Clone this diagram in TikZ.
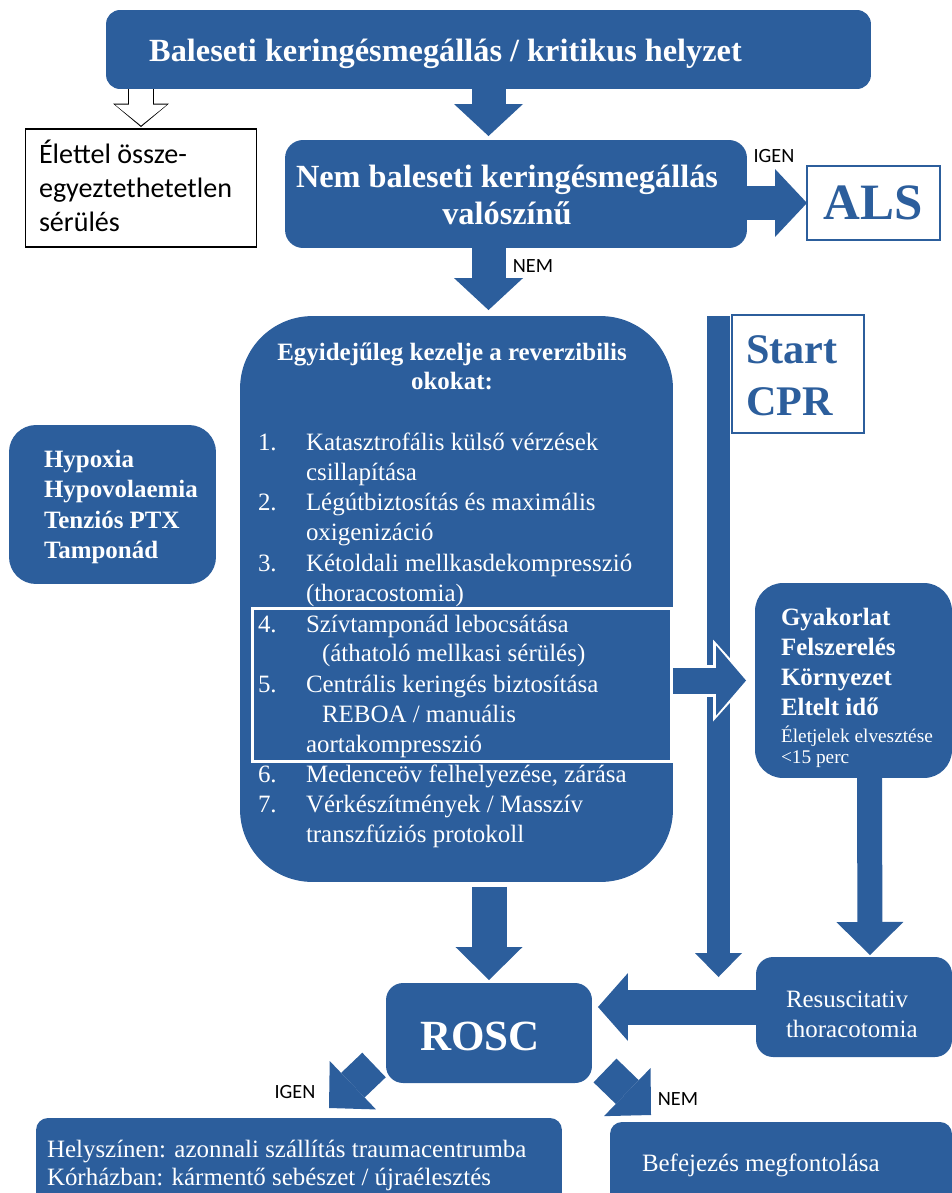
\documentclass[tikz,border=0pt]{standalone}
\usepackage{fontspec}
\setmainfont{Liberation Serif}
\newfontfamily\calibri{Carlito}
\usetikzlibrary{arrows.meta}
\definecolor{ablue}{RGB}{44,94,156}
\begin{document}
\begin{tikzpicture}[x={(0.02cm,0cm)},y={(0cm,-0.02cm)},every node/.style={inner sep=0pt, outer sep=0pt},
panel/.style={fill=ablue},
blk/.style n args={3}{draw=ablue,line width=#1,-{Triangle[width=#2,length=#3,line width=0pt]}},
bf/.style={font=\bfseries\fontsize{14.2pt}{17pt}\selectfont,text=white},
rm/.style={font=\fontsize{14.2pt}{17pt}\selectfont,text=white},
lb/.style={font=\calibri\fontsize{11.5pt}{13pt}\selectfont}]
\useasboundingbox (0,0) rectangle (952,1193);
\node[panel,rounded corners=0.28cm,minimum width=15.3cm,minimum height=1.58cm] (top) at (488.5,49.5) {};
\node[draw,line width=0.6pt,fill=white,minimum width=4.63cm,minimum height=2.36cm] (lethal) at (141,188) {};
\node[panel,rounded corners=0.36cm,minimum width=9.24cm,minimum height=2.16cm] (nb) at (516,194) {};
\node[draw=ablue,line width=0.7pt,fill=white,minimum width=2.66cm,minimum height=1.48cm,text=ablue,font=\bfseries\fontsize{29pt}{34pt}\selectfont] (als) at (873.5,203) {ALS};
\node[panel,rounded corners=1.45cm,minimum width=8.66cm,minimum height=11.32cm] (causes) at (456.5,599) {};
\node[panel,rounded corners=0.54cm,minimum width=4.14cm,minimum height=3.18cm] (hyp) at (112.5,504.5) {};
\node[draw=ablue,line width=0.7pt,fill=white,minimum width=2.64cm,minimum height=2.36cm] (cpr) at (798,374) {};
\node[panel,rounded corners=0.56cm,minimum width=3.94cm,minimum height=3.9cm] (gyak) at (853.5,680.5) {};
\node[panel,rounded corners=0.34cm,minimum width=4.12cm,minimum height=2cm] (rosc) at (489,1033) {};
\node[panel,rounded corners=0.34cm,minimum width=3.92cm,minimum height=2cm] (rt) at (854,1007) {};
\node[panel,rounded corners=0.24cm,minimum width=10.52cm,minimum height=1.74cm] (yes) at (299,1161.5) {};
\node[panel,rounded corners=0.24cm,minimum width=6.84cm,minimum height=1.66cm] (stop) at (781,1163.5) {};
\draw[white,line width=1.7pt] (252.5,608.5) rectangle (671.5,761.5);
\coordinate (spinetop) at (718.5,316);
\coordinate (spineend) at (718.5,977);
\coordinate (yestip) at (329,1108);
\coordinate (notip) at (651,1115);
\draw[draw=black,line width=0.52cm,-{Triangle[width=1.12cm,length=0.47cm,line width=0pt]},shorten >=0.04cm] (top.south -| lethal.north) -- (lethal.north);
\draw[draw=white,line width=0.48cm,-{Triangle[width=1.04cm,length=0.42cm,line width=0pt]},shorten >=0.07cm] (top.south -| lethal.north) -- (lethal.north);
\draw[blk={0.68cm}{1.38cm}{0.64cm},shorten >=0.08cm] (top.south) -- (top.south |- nb.north);
\draw[blk={0.68cm}{1.36cm}{0.64cm}] (nb.east |- als) -- (als.west);
\draw[blk={0.68cm}{1.38cm}{0.64cm},shorten >=0.12cm] (nb.south -| top.south) -- (causes.north -| top.south);
\draw[blk={0.7cm}{1.34cm}{0.66cm},shorten <=0.1cm,shorten >=0.06cm] (causes.south -| rosc.north) -- (rosc.north);
\draw[blk={0.46cm}{0.94cm}{0.48cm}] (spinetop) -- (spineend);
\draw[draw=white,line width=0.64cm,-{Triangle[width=1.64cm,length=0.74cm,line width=0pt]},shorten >=0.1cm] (causes.east |- gyak) -- (gyak.west);
\draw[blk={0.52cm}{1.4cm}{0.6cm},shorten >=0.18cm] (causes.east |- gyak) -- (gyak.west);
\draw[blk={0.5cm}{1.34cm}{0.66cm},shorten >=0.04cm] ([xshift=0.32cm]gyak.south) -- ([xshift=0.32cm]rt.north);
\draw[blk={0.7cm}{1.36cm}{0.6cm},shorten >=0.12cm] (rt.west) -- (rt.west -| rosc.east);
\draw[blk={0.68cm}{1.34cm}{0.66cm}] ([shift={(-12,-18)}]rosc.south west) -- (yestip);
\draw[blk={0.66cm}{1.34cm}{0.66cm}] ([shift={(13,-12.5)}]rosc.south east) -- (notip);
\node[font=\bfseries\fontsize{18.4pt}{22pt}\selectfont,text=white,anchor=base] (ttop) at (445.5,61.5) {Baleseti keringésmegállás / kritikus helyzet};
\node[font=\calibri\fontsize{16pt}{19pt}\selectfont,anchor=base west] (tl1) at (39,163) {Élettel össze-};
\node[font=\calibri\fontsize{16pt}{19pt}\selectfont,anchor=base west] (tl2) at (39,197) {egyeztethetetlen};
\node[font=\calibri\fontsize{16pt}{19pt}\selectfont,anchor=base west] (tl3) at (39,231) {sérülés};
\node[font=\bfseries\fontsize{18.4pt}{22pt}\selectfont,text=white,anchor=base] (tnb1) at (507,187) {Nem baleseti keringésmegállás};
\node[font=\bfseries\fontsize{18.4pt}{22pt}\selectfont,text=white,anchor=base] (tnb2) at (507,224) {valószínű};
\node[lb,anchor=base] (igen1) at (774,162) {IGEN};
\node[lb,anchor=base] (nem1) at (533,272) {NEM};
\node[bf,anchor=base] (tc1) at (452,360) {Egyidejűleg kezelje a reverzibilis};
\node[bf,anchor=base] (tc2) at (452,389) {okokat:};
\node[rm,anchor=base west] (n1) at (258,450) {1.};
\node[rm,anchor=base west] (i1a) at (306,450) {Katasztrofális külső vérzések};
\node[rm,anchor=base west] (i1b) at (306,480) {csillapítása};
\node[rm,anchor=base west] (n2) at (258,510) {2.};
\node[rm,anchor=base west] (i2a) at (306,510) {Légútbiztosítás és maximális};
\node[rm,anchor=base west] (i2b) at (306,540) {oxigenizáció};
\node[rm,anchor=base west] (n3) at (258,571) {3.};
\node[rm,anchor=base west] (i3a) at (306,571) {Kétoldali mellkasdekompresszió};
\node[rm,anchor=base west] (i3b) at (306,601) {(thoracostomia)};
\node[rm,anchor=base west] (n4) at (258,632) {4.};
\node[rm,anchor=base west] (i4a) at (306,632) {Szívtamponád lebocsátása};
\node[rm,anchor=base west] (i4b) at (322,661) {(áthatoló mellkasi sérülés)};
\node[rm,anchor=base west] (n5) at (258,692) {5.};
\node[rm,anchor=base west] (i5a) at (306,692) {Centrális keringés biztosítása};
\node[rm,anchor=base west] (i5b) at (322,722) {REBOA / manuális};
\node[rm,anchor=base west] (i5c) at (306,752) {aortakompresszió};
\node[rm,anchor=base west] (n6) at (258,782) {6.};
\node[rm,anchor=base west] (i6a) at (306,782) {Medenceöv felhelyezése, zárása};
\node[rm,anchor=base west] (n7) at (258,812) {7.};
\node[rm,anchor=base west] (i7a) at (306,812) {Vérkészítmények / Masszív};
\node[rm,anchor=base west] (i7b) at (306,842) {transzfúziós protokoll};
\node[bf,anchor=base west] (h1) at (44,467) {Hypoxia};
\node[bf,anchor=base west] (h2) at (44,497) {Hypovolaemia};
\node[bf,anchor=base west] (h3) at (44,528) {Tenziós PTX};
\node[bf,anchor=base west] (h4) at (44,558) {Tamponád};
\node[font=\bfseries\fontsize{24pt}{29pt}\selectfont,text=ablue,anchor=base west] (s1) at (746,363) {Start};
\node[font=\bfseries\fontsize{24pt}{29pt}\selectfont,text=ablue,anchor=base west] (s2) at (746,415) {CPR};
\node[bf,anchor=base west] (g1) at (781,625) {Gyakorlat};
\node[bf,anchor=base west] (g2) at (781,655) {Felszerelés};
\node[bf,anchor=base west] (g3) at (781,685) {Környezet};
\node[bf,anchor=base west] (g4) at (781,715) {Eltelt idő};
\node[font=\fontsize{11pt}{13pt}\selectfont,text=white,anchor=base west] (g5) at (781,742) {Életjelek elvesztése};
\node[font=\fontsize{11pt}{13pt}\selectfont,text=white,anchor=base west] (g6) at (781,763) {<15 perc};
\node[font=\bfseries\fontsize{24.5pt}{29pt}\selectfont,text=white,anchor=base] (tr) at (480,1050) {ROSC};
\node[rm,anchor=base west] (r1) at (786,1007) {Resuscitativ};
\node[rm,anchor=base west] (r2) at (786,1037) {thoracotomia};
\node[lb,anchor=base] (igen2) at (295,1098) {IGEN};
\node[lb,anchor=base] (nem2) at (678,1105) {NEM};
\node[rm,anchor=base west] (y1) at (47,1157) {Helyszínen: azonnali szállítás traumacentrumba};
\node[rm,anchor=base west] (y2) at (47,1185) {Kórházban: kármentő sebészet / újraélesztés};
\node[rm,anchor=base west] (b1) at (642,1171) {Befejezés megfontolása};
\end{tikzpicture}
\end{document}
